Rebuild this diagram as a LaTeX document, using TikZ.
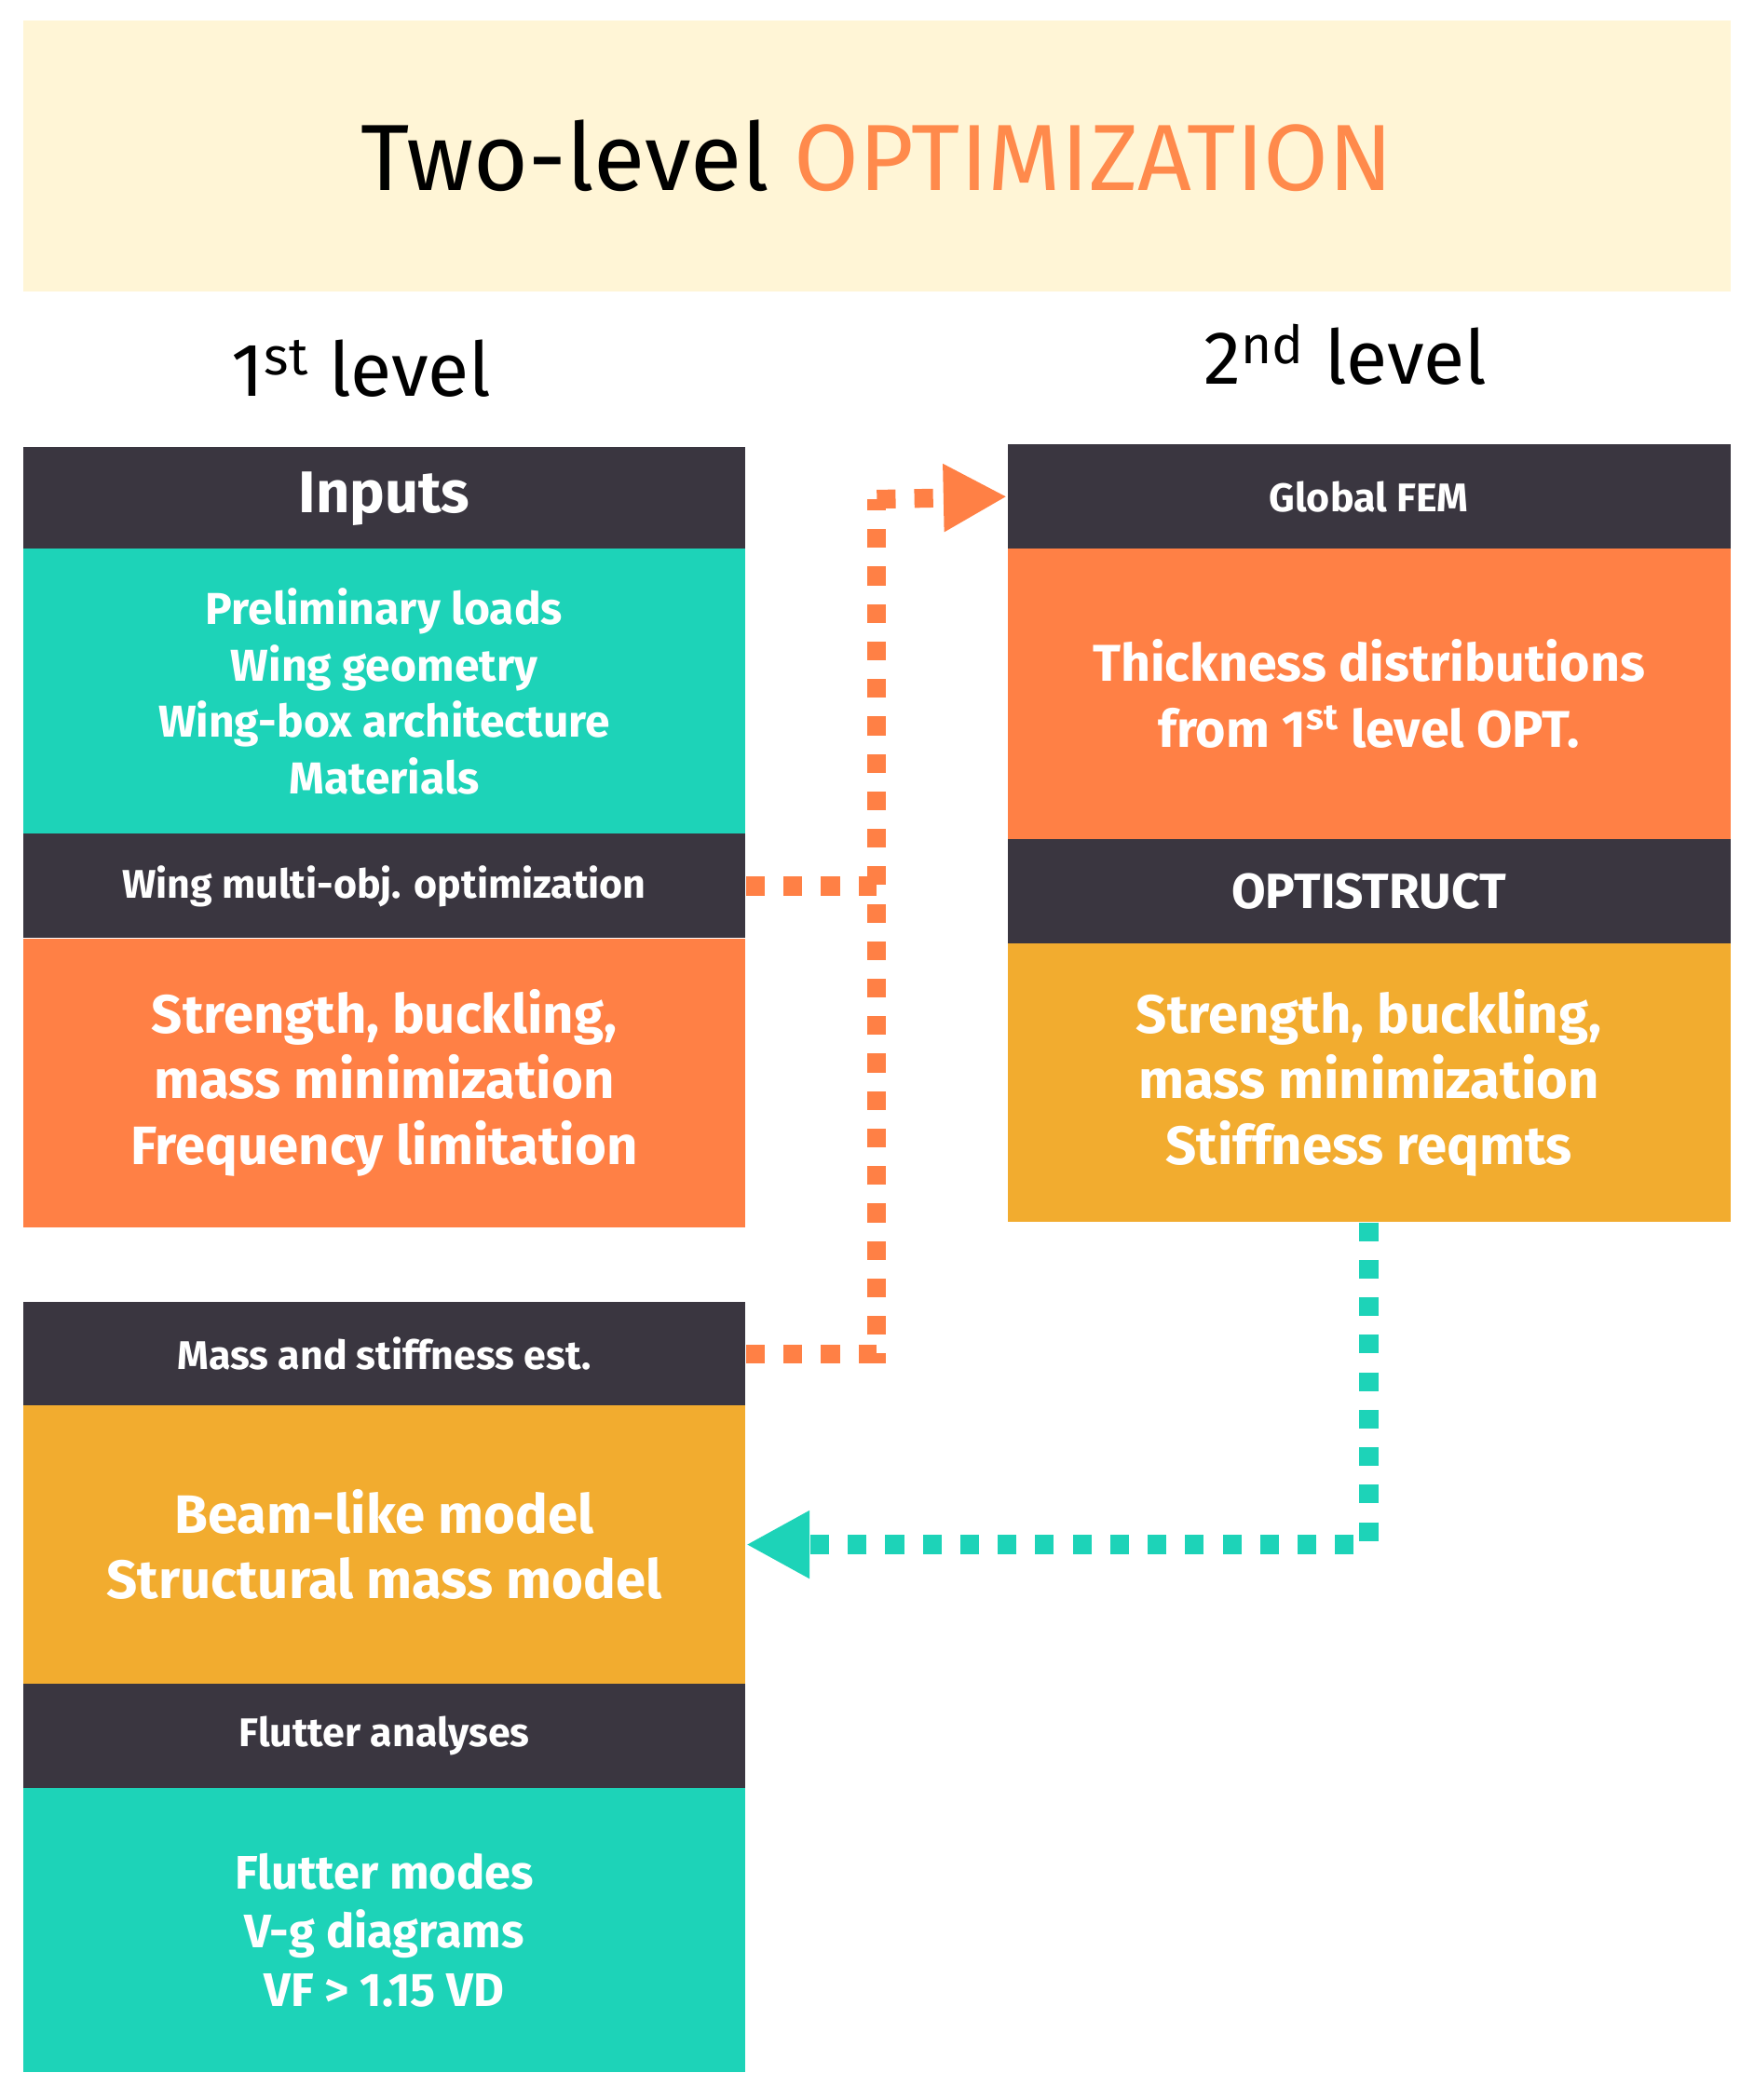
\documentclass[tikz,border=0pt]{standalone}
\usepackage{fontspec}
\setmainfont{Fira Sans}
\usetikzlibrary{arrows.meta}
\definecolor{dark}{HTML}{3A3640}
\definecolor{teal}{HTML}{1DD3B8}
\definecolor{org}{HTML}{FF8045}
\definecolor{yel}{HTML}{F2AC2F}
\definecolor{cream}{HTML}{FFF5D6}
\definecolor{torg}{HTML}{FF8A4C}
\begin{document}
\begin{tikzpicture}[x=0.02cm,y=-0.02cm,
 blk/.style={rectangle,inner sep=0pt,minimum width=10.8cm,text=white,align=center},
 hdr/.style={blk,fill=dark,minimum height=1.56cm},
 odash/.style={draw=org,line width=8pt,dash pattern=on 0.28cm off 0.28cm},
 tdash/.style={draw=teal,line width=8pt,dash pattern=on 0.28cm off 0.28cm}]
\useasboundingbox (0,0) rectangle (1310,1569);
\node[rectangle,fill=cream,minimum width=25.52cm,minimum height=4.06cm,inner sep=0pt,font=\fontsize{40}{46}\selectfont] (title) at (655,116.5)
 {Two-level \textcolor{torg}{OPTIMIZATION}};
\node[font=\fontsize{32}{38}\selectfont] (l1) at (270,275) {1\textsuperscript{st} level};
\node[font=\fontsize{32}{38}\selectfont] (l2) at (1005,265) {2\textsuperscript{nd} level};
% left column
\node[hdr,font=\fontsize{25}{30}\selectfont\bfseries] (inp) at (287,373) {Inputs};
\node[blk,fill=teal,minimum height=4.26cm,font=\fontsize{19}{24}\selectfont\bfseries] (inb) at (287,516.5)
 {Preliminary loads\\Wing geometry\\Wing-box architecture\\Materials};
\node[hdr,font=\fontsize{17}{21}\selectfont\bfseries] (wmo) at (287,662) {Wing multi-obj. optimization};
\node[blk,fill=org,minimum height=4.32cm,font=\fontsize{23}{28}\selectfont\bfseries] (wmb) at (287,809)
 {Strength, buckling,\\mass minimization\\Frequency limitation};
\node[hdr,font=\fontsize{17}{21}\selectfont\bfseries] (mse) at (287,1011.5) {Mass and stiffness est.};
\node[blk,fill=yel,minimum height=4.16cm,font=\fontsize{23}{28}\selectfont\bfseries] (beam) at (287,1154)
 {Beam-like model\\Structural mass model};
\node[hdr,font=\fontsize{17}{21}\selectfont\bfseries] (fla) at (287,1297) {Flutter analyses};
\node[blk,fill=teal,minimum height=4.24cm,font=\fontsize{20}{25}\selectfont\bfseries] (flb) at (287,1442)
 {Flutter modes\\V-g diagrams\\VF > 1.15 VD};
% right column
\node[hdr,font=\fontsize{17}{21}\selectfont\bfseries] (gf) at (1022.5,371) {Global FEM};
\node[blk,fill=org,minimum height=4.34cm,font=\fontsize{22}{28}\selectfont\bfseries] (gfb) at (1022.5,518.5)
 {Thickness distributions\\from 1\textsuperscript{st} level OPT.};
\node[hdr,font=\fontsize{21}{25}\selectfont\bfseries] (opt) at (1022.5,666) {OPTISTRUCT};
\node[blk,fill=yel,minimum height=4.16cm,font=\fontsize{23}{28}\selectfont\bfseries] (optb) at (1022.5,809)
 {Strength, buckling,\\mass minimization\\Stiffness reqmts};
% connectors
\coordinate (j1) at (655,373);
\draw[odash] (mse.east) -| (j1);
\draw[odash] (wmo.east) -- (655,662);
\draw[odash,-{Triangle[length=0.95cm,width=0.95cm]}] (j1) -- (gf.west);
\draw[tdash,-{Triangle[length=0.95cm,width=0.95cm]}] (optb.south) |- (beam.east);
\end{tikzpicture}
\end{document}
